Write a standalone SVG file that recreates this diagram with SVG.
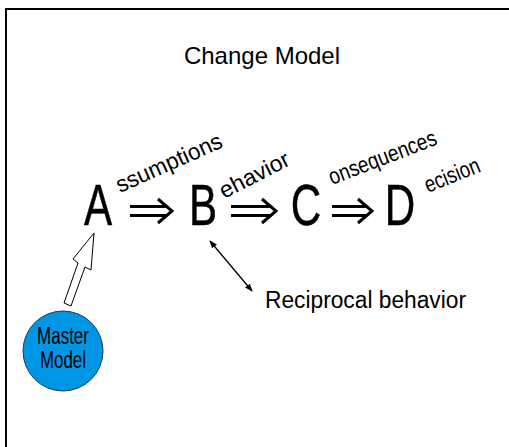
<svg xmlns="http://www.w3.org/2000/svg" width="509" height="447" viewBox="0 0 509 447">
<defs>
<style>
.big{font-family:"Liberation Sans",Arial,sans-serif;font-size:57px;fill:#000;stroke:#000;stroke-width:0.5}
.lbl{font-family:"Liberation Sans",Arial,sans-serif;font-size:23px;fill:#000}
.dbl{fill:none;stroke:#000;stroke-width:3}
</style>
<marker id="ah" viewBox="0 0 10 10" refX="9" refY="5" markerWidth="8" markerHeight="8" orient="auto-start-reverse" markerUnits="userSpaceOnUse"><path d="M0,1 L10,5 L0,9 z" fill="#000"/></marker>
</defs>
<rect width="509" height="447" fill="#fff"/>
<path d="M6,447 V9 H509" fill="none" stroke="#000" stroke-width="2"/>
<text id="title" x="262" y="64" text-anchor="middle" font-family="Liberation Sans,Arial,sans-serif" font-size="24">Change Model</text>
<g id="A"><text class="big" text-anchor="middle" transform="translate(98 225) scale(0.74 1)">A</text>
<text class="lbl" transform="translate(120 193) rotate(-24)" textLength="114" lengthAdjust="spacingAndGlyphs">ssumptions</text></g>
<g id="B"><text class="big" text-anchor="middle" transform="translate(203 225) scale(0.74 1)">B</text>
<text class="lbl" transform="translate(224 199) rotate(-27)" textLength="76" lengthAdjust="spacingAndGlyphs">ehavior</text></g>
<g id="C"><text class="big" text-anchor="middle" transform="translate(306 225) scale(0.74 1)">C</text>
<text class="lbl" transform="translate(332 185) rotate(-21)" textLength="114" lengthAdjust="spacingAndGlyphs">onsequences</text></g>
<g id="D"><text class="big" text-anchor="middle" transform="translate(400 225) scale(0.74 1)">D</text>
<text class="lbl" transform="translate(428 193) rotate(-22)" textLength="58" lengthAdjust="spacingAndGlyphs">ecision</text></g>
<g id="master"><circle cx="63" cy="351" r="40" fill="#0096e6" stroke="#1a3a5a" stroke-width="1"/>
<text class="lbl" x="63" y="344" text-anchor="middle" font-size="16" textLength="52" lengthAdjust="spacingAndGlyphs">Master</text>
<text class="lbl" x="63" y="368" text-anchor="middle" font-size="16" textLength="46" lengthAdjust="spacingAndGlyphs">Model</text></g>
<g id="recip"><text class="lbl" x="265" y="308" font-size="24" textLength="201" lengthAdjust="spacingAndGlyphs">Reciprocal behavior</text></g>
<g id="connectors">
<path class="dbl" d="M130,206.5 H166 M130,215.5 H166 M158,199 L172,211 L158,223"/>
<path class="dbl" d="M231,206.5 H270 M231,215.5 H270 M262,199 L276,211 L262,223"/>
<path class="dbl" d="M332,206.5 H366 M332,215.5 H366 M358,199 L372,211 L358,223"/>
<polygon points="94,233 91,270 85,267 71,306 64,303 78,263 73,259" fill="#fff" stroke="#000" stroke-width="1"/>
<line x1="210" y1="241" x2="252" y2="291" stroke="#000" stroke-width="1.3" marker-start="url(#ah)" marker-end="url(#ah)"/>
</g>
</svg>
